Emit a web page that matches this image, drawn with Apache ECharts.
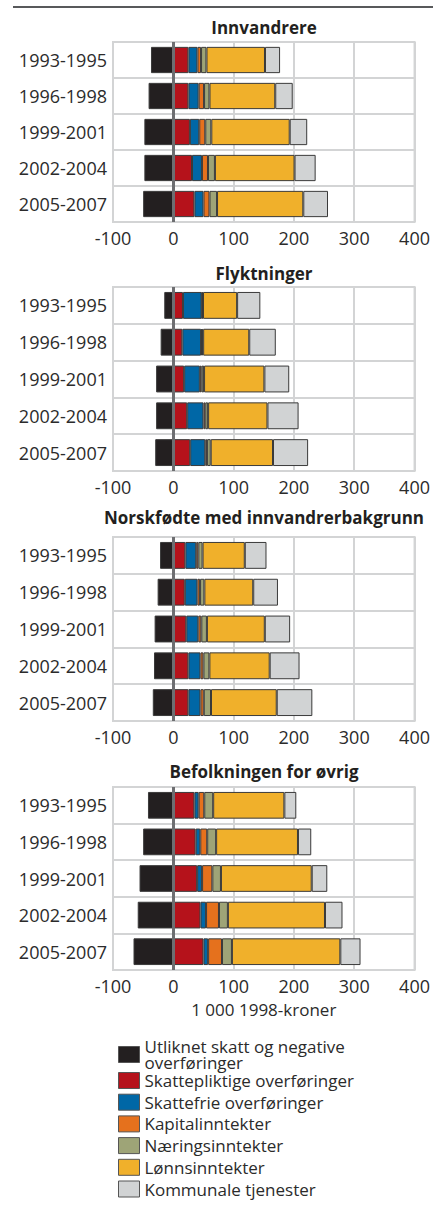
<!DOCTYPE html>
<html><head><meta charset="utf-8">
<script src="https://cdn.jsdelivr.net/npm/echarts@6/dist/echarts.min.js"></script>
<style>html,body{margin:0;padding:0;background:#fff}#c{width:433px;height:1205px}</style>
</head><body><div id="c"></div>
<script>
// ---- data ----
const categories = ['1993-1995', '1996-1998', '1999-2001', '2002-2004', '2005-2007'];
const panelTitles = ['Innvandrere', 'Flyktninger', 'Norskfødte med innvandrerbakgrunn', 'Befolkningen for øvrig'];
const seriesNames = ['Utliknet skatt og negative overføringer', 'Skattepliktige overføringer', 'Skattefrie overføringer',
  'Kapitalinntekter', 'Næringsinntekter', 'Lønnsinntekter', 'Kommunale tjenester'];
const axisName = '1 000 1998-kroner';

// Innvandrere
const innvSkatt      = [-37, -41, -48, -48, -50];
const innvSkattepl   = [25, 25, 27.5, 31, 35];
const innvSkattefrie = [15, 17, 15.5, 16.5, 15];
const innvKapital    = [6, 9, 10, 10, 10];
const innvNaering    = [9, 9, 10, 11.5, 12.5];
const innvLonn       = [97, 109, 130, 132, 143];
const innvKommunal   = [25, 29, 29, 35, 41];
// Flyktninger
const flySkatt      = [-15, -21, -28.5, -28.5, -30];
const flySkattepl   = [16, 15, 18, 23, 28];
const flySkattefrie = [31, 31, 26, 27, 25];
const flyKapital    = [1, 1.5, 3, 3, 3];
const flyNaering    = [1.2, 2, 4, 4.7, 6];
const flyLonn       = [56.6, 76.4, 100, 98.4, 103.3];
const flyKommunal   = [38.5, 44, 41.2, 51.6, 58.2];
// Norskfødte med innvandrerbakgrunn
const norSkatt      = [-22, -26, -31, -32, -34];
const norSkattepl   = [20, 19, 21.5, 25, 25];
const norSkattefrie = [18, 21, 20, 20, 20];
const norKapital    = [3.5, 4.4, 4.9, 4.9, 5.5];
const norNaering    = [7, 7.1, 9.3, 9.9, 12];
const norLonn       = [70, 81, 96, 100, 109];
const norKommunal   = [36, 41, 42, 49.5, 59];
// Befolkningen for øvrig
const befSkatt      = [-42, -50, -56, -59, -66];
const befSkattepl   = [35, 37, 39.5, 45, 50];
const befSkattefrie = [7, 7.7, 8.2, 9.3, 7.7];
const befKapital    = [9.3, 11.5, 17, 21.4, 23];
const befNaering    = [14.8, 14.8, 14.3, 14.8, 16.5];
const befLonn       = [118, 135.7, 150.5, 161, 179.7];
const befKommunal   = [19.8, 22, 25.8, 29, 33.5];

const xMin = -100, xMax = 400, xStep = 100;

// ---- build ----
const panels = [
  [innvSkatt, innvSkattepl, innvSkattefrie, innvKapital, innvNaering, innvLonn, innvKommunal],
  [flySkatt, flySkattepl, flySkattefrie, flyKapital, flyNaering, flyLonn, flyKommunal],
  [norSkatt, norSkattepl, norSkattefrie, norKapital, norNaering, norLonn, norKommunal],
  [befSkatt, befSkattepl, befSkattefrie, befKapital, befNaering, befLonn, befKommunal]
];
const colors = ['#231f20', '#b5121b', '#0067a6', '#e5711d', '#9ea477', '#f0b02b', '#d1d3d4'];
const gridPos = [{top: 42, height: 180}, {top: 287, height: 184}, {top: 537, height: 184}, {top: 787, height: 183}];
const titleTops = [19, 265, 509, 763];
const FONT = 'Open Sans';
const txt = '#2b2b2b';
const gridLine = '#d3d4d5';

const grid = [], xAxis = [], yAxis = [], series = [], title = [];
gridPos.forEach((g, p) => {
  grid.push({left: 113, width: 302, top: g.top, height: g.height, show: true, borderColor: gridLine, borderWidth: 2});
  title.push({text: panelTitles[p], left: 264, top: titleTops[p], textAlign: 'center', padding: 0,
    textStyle: {fontFamily: FONT, fontSize: 17, fontWeight: 'bold', color: '#231f20'}});
  xAxis.push({type: 'value', gridIndex: p, min: xMin, max: xMax, interval: xStep,
    axisLine: {show: false}, axisTick: {show: false},
    splitLine: {show: true, lineStyle: {color: gridLine, width: 2}},
    axisLabel: {fontFamily: FONT, fontSize: 18, color: txt, margin: 7},
    name: p === 3 ? axisName : '', nameLocation: 'middle', nameGap: 31,
    nameTextStyle: {fontFamily: FONT, fontSize: 17, color: txt}});
  yAxis.push({type: 'category', gridIndex: p, data: categories, inverse: true,
    axisLine: {show: false}, axisTick: {show: false},
    splitLine: {show: true, lineStyle: {color: gridLine, width: 2}},
    axisLabel: {fontFamily: FONT, fontSize: 18, color: txt, margin: 6}});
  panels[p].forEach((vals, s) => {
    const ser = {type: 'bar', name: seriesNames[s], xAxisIndex: p, yAxisIndex: p, stack: 'p' + p,
      data: vals, barWidth: '73%', itemStyle: {color: colors[s], borderColor: '#3a3a3a', borderWidth: 1},
      emphasis: {disabled: true}, animation: false};
    if (s === 6) {
      ser.z = 4;
      ser.markLine = {silent: true, symbol: 'none', animation: false, label: {show: false},
        lineStyle: {color: '#6d6e71', width: 3, type: 'solid'}, data: [{xAxis: 0}]};
    }
    series.push(ser);
  });
});

const option = {
  animation: false,
  textStyle: {fontFamily: FONT},
  title, grid, xAxis, yAxis, series,
  legend: [
    {data: [seriesNames[0]], orient: 'vertical', left: 118, top: 1038, padding: 0, itemWidth: 21, itemHeight: 16,
      icon: 'rect', selectedMode: false,
      itemStyle: {borderColor: '#555', borderWidth: 1},
      formatter: () => 'Utliknet skatt og negative\noverføringer',
      textStyle: {fontFamily: FONT, fontSize: 17, color: txt, lineHeight: 16, padding: [0, 0, 0, 0]}},
    {data: seriesNames.slice(1), orient: 'vertical', left: 118, top: 1072, padding: 0, height: 133,
      itemWidth: 21, itemHeight: 16, itemGap: 4.7, icon: 'rect', selectedMode: false,
      itemStyle: {borderColor: '#555', borderWidth: 1},
      textStyle: {fontFamily: FONT, fontSize: 17, color: txt, lineHeight: 17}}
  ],
  graphic: [{type: 'line', shape: {x1: 13, y1: 7, x2: 433, y2: 7}, style: {stroke: '#58595b', lineWidth: 2}}]
};
const chart = echarts.init(document.getElementById('c'), null, {renderer: 'svg'});
chart.setOption(option);
</script>
</body></html>
